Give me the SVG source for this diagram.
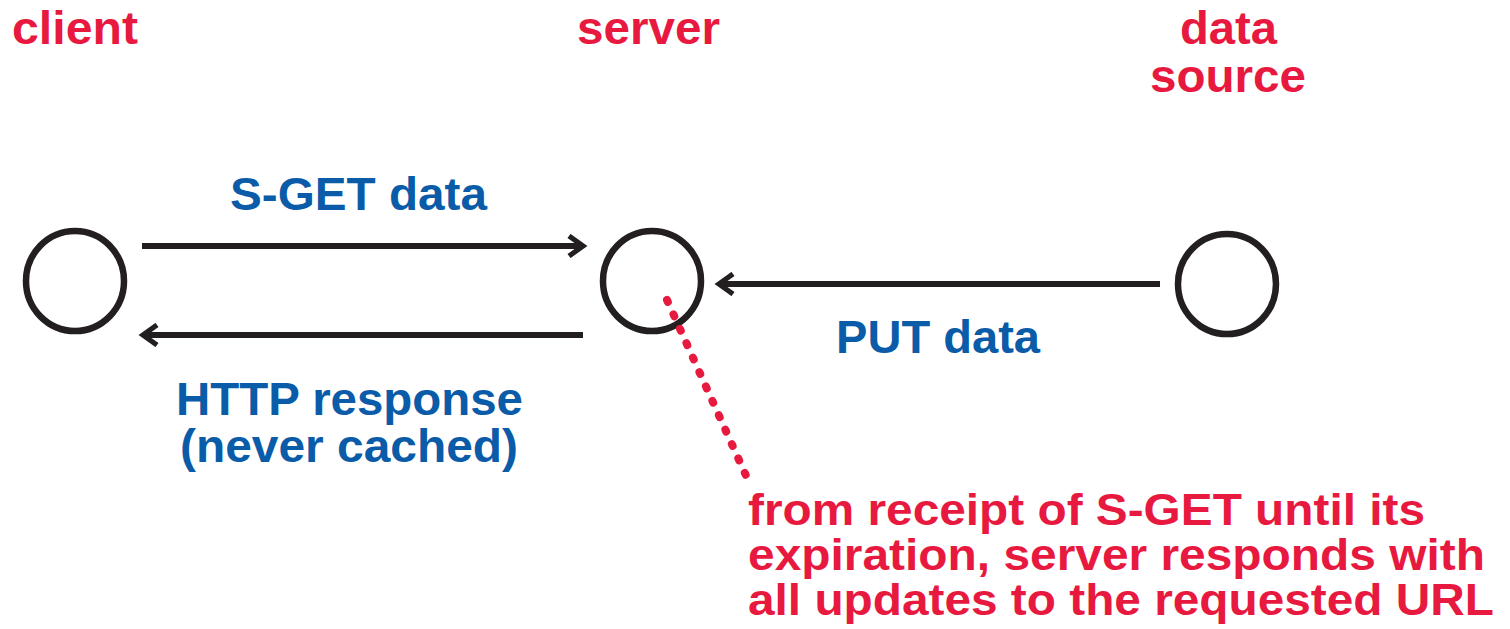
<svg xmlns="http://www.w3.org/2000/svg" width="1510" height="629" viewBox="0 0 1510 629">
  <style>
    .node { fill: none; stroke: #231f20; stroke-width: 6.5; }
    .arrow { fill: none; stroke: #231f20; stroke-width: 6; }
    .title { font-family: "Liberation Sans", Arial, sans-serif; font-weight: bold; font-size: 46px; fill: #e8193f; }
    .msg { font-family: "Liberation Sans", Arial, sans-serif; font-weight: bold; font-size: 46px; fill: #0a5ba8; }
    .note { font-family: "Liberation Sans", Arial, sans-serif; font-weight: bold; font-size: 44px; fill: #e8193f; }
    .dots { fill: none; stroke: #e8193f; stroke-width: 8; stroke-linecap: round; stroke-dasharray: 2 13.8; }
  </style>
  <defs>
    <marker id="head" viewBox="0 0 12 12" refX="9" refY="6" markerWidth="4" markerHeight="4" orient="auto" markerUnits="strokeWidth">
      <path d="M2,1 L9,6 L2,11" fill="none" stroke="#231f20" stroke-width="2.6"/>
    </marker>
  </defs>
  <rect width="1510" height="629" fill="#ffffff"/>

  <!-- participants -->
  <g id="client">
    <ellipse class="node" cx="75" cy="281" rx="49" ry="50"/>
    <text class="title" x="12" y="44" textLength="126" lengthAdjust="spacingAndGlyphs">client</text>
  </g>
  <g id="server">
    <ellipse class="node" cx="652" cy="281" rx="49" ry="50"/>
    <text class="title" x="577" y="44" textLength="143" lengthAdjust="spacingAndGlyphs">server</text>
  </g>
  <g id="data-source">
    <ellipse class="node" cx="1227" cy="284" rx="49" ry="50"/>
    <text class="title" x="1180" y="44" textLength="97" lengthAdjust="spacingAndGlyphs">data</text>
    <text class="title" x="1150" y="92" textLength="156" lengthAdjust="spacingAndGlyphs">source</text>
  </g>

  <!-- messages -->
  <g id="connectors">
    <line class="arrow" x1="142" y1="246" x2="583" y2="246" marker-end="url(#head)"/>
    <line class="arrow" x1="583" y1="335" x2="143" y2="335" marker-end="url(#head)"/>
    <line class="arrow" x1="1160" y1="284" x2="719" y2="284" marker-end="url(#head)"/>
    <line class="dots" x1="667" y1="300" x2="748" y2="480"/>
  </g>

  <g id="labels">
    <text class="msg" x="230" y="210" textLength="257" lengthAdjust="spacingAndGlyphs">S-GET data</text>
    <text class="msg" x="176" y="415" textLength="347" lengthAdjust="spacingAndGlyphs">HTTP response</text>
    <text class="msg" x="180" y="462" textLength="338" lengthAdjust="spacingAndGlyphs">(never cached)</text>
    <text class="msg" x="836" y="353" textLength="204" lengthAdjust="spacingAndGlyphs">PUT data</text>
  </g>

  <g id="note">
    <text class="note" x="748" y="525" textLength="677" lengthAdjust="spacingAndGlyphs">from receipt of S-GET until its</text>
    <text class="note" x="748" y="570" textLength="737" lengthAdjust="spacingAndGlyphs">expiration, server responds with</text>
    <text class="note" x="748" y="615" textLength="746" lengthAdjust="spacingAndGlyphs">all updates to the requested URL</text>
  </g>
</svg>
